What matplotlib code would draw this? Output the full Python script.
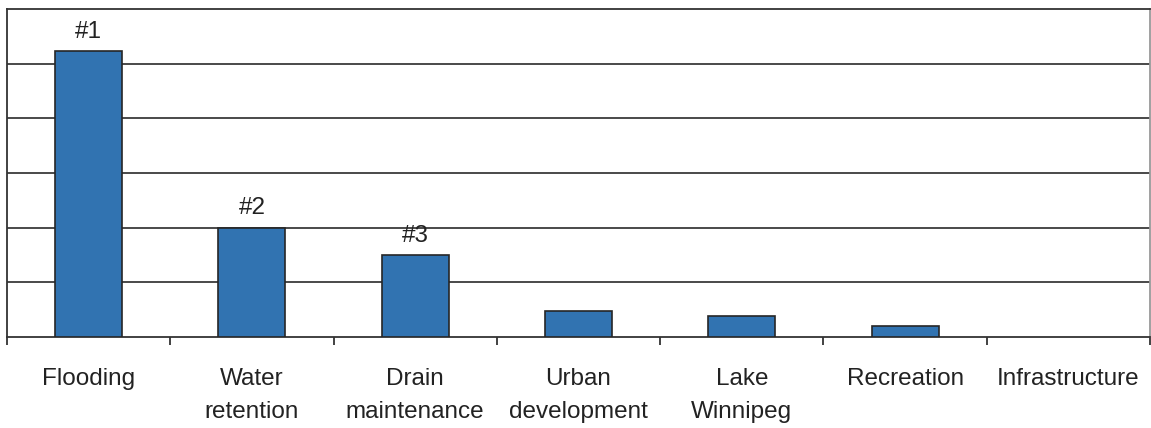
import matplotlib
matplotlib.use("Agg")
import matplotlib.pyplot as plt
import numpy as np

categories = ["Flooding", "Water\nretention", "Drain\nmaintenance", "Urban\ndevelopment",
              "Lake\nWinnipeg", "Recreation", "Infrastructure"]
values = [5.23, 2.0, 1.5, 0.48, 0.38, 0.21, 0.0]
ranks = ["#1", "#2", "#3"]

plt.rcParams["font.family"] = ["Liberation Sans", "DejaVu Sans"]

fig = plt.figure(figsize=(11.51, 4.28), dpi=100)
ax = fig.add_axes([7 / 1151, 91 / 428, 1143 / 1151, 328 / 428])

x = np.arange(len(categories))
bars = ax.bar(x, values, width=0.41, color="#3173B1", edgecolor="#262626",
              linewidth=1.2, zorder=3)
for b, v in zip(bars, values):
    if v == 0:
        b.set_linewidth(0)

for b, r in zip(bars, ranks):
    ax.annotate(r, (b.get_x() + b.get_width() / 2, b.get_height()),
                xytext=(0, 6), textcoords="offset points",
                ha="center", va="bottom", fontsize=17.5, color="#222222")

ax.set_xlim(-0.5, len(categories) - 0.5)
ax.set_ylim(0, 6)
ax.set_yticks(np.arange(1, 6))
ax.yaxis.grid(True, color="#3a3a3a", linewidth=1.3, zorder=0)
ax.tick_params(axis="y", left=False, labelleft=False)

ax.set_xticks(x)
ax.set_xticklabels(categories, fontsize=17.5, color="#222222", linespacing=1.68, va="top")
ax.set_xticks(np.arange(-0.5, len(categories), 1), minor=True)
ax.tick_params(axis="x", which="major", length=0, pad=22)
ax.tick_params(axis="x", which="minor", length=6, width=1.3, color="#333333", direction="out")

for side in ["left", "top", "bottom"]:
    ax.spines[side].set_color("#333333")
    ax.spines[side].set_linewidth(1.3)
ax.spines["right"].set_color("#999999")
ax.spines["right"].set_linewidth(1.3)

fig.savefig("out.png", dpi=100)
